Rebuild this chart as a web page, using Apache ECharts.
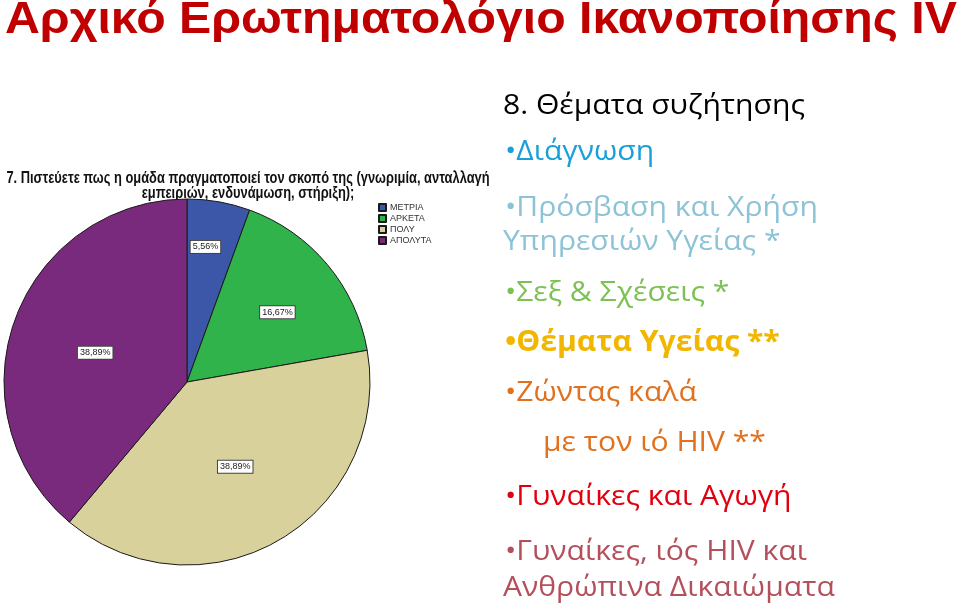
<!DOCTYPE html>
<html><head><meta charset="utf-8">
<script src="https://cdn.jsdelivr.net/npm/echarts@6/dist/echarts.min.js"></script>
<style>html,body{margin:0;padding:0;background:#fff}#c{width:960px;height:609px}</style>
</head><body><div id="c"></div>
<script>
const pageTitle = 'Αρχικό Ερωτηματολόγιο Ικανοποίησης IV';
const questionLines = ['7. Πιστεύετε πως η ομάδα πραγματοποιεί τον σκοπό της (γνωριμία, ανταλλαγή', 'εμπειριών, ενδυνάμωση, στήριξη);'];
const categories = ['ΜΕΤΡΙΑ', 'ΑΡΚΕΤΑ', 'ΠΟΛΥ', 'ΑΠΟΛΥΤΑ'];
const percents = [5.56, 16.67, 38.89, 38.89];
const topicLines = [
  '8. Θέματα συζήτησης',
  '•Διάγνωση',
  '•Πρόσβαση και Χρήση',
  'Υπηρεσιών Υγείας *',
  '•Σεξ & Σχέσεις *',
  '•Θέματα Υγείας **',
  '•Ζώντας καλά',
  'με τον ιό HIV **',
  '•Γυναίκες και Αγωγή',
  '•Γυναίκες, ιός HIV και',
  'Ανθρώπινα Δικαιώματα'
];

const sliceColors = ['#3d57a8', '#30b34a', '#d8d19b', '#7a2a7d'];
const labelOffsets = [[2, -42], [18, -9], [1, 3], [-3, 3]];
const topicStyle = [
  {x: 503, y: 106, c: '#000000', b: false},
  {x: 505, y: 152, c: '#1a9fd9', b: false},
  {x: 505, y: 208, c: '#8dc3d7', b: false},
  {x: 503, y: 242, c: '#8dc3d7', b: false},
  {x: 505, y: 293, c: '#7cc154', b: false},
  {x: 505, y: 343, c: '#f1b700', b: true},
  {x: 505, y: 393, c: '#e0711e', b: false},
  {x: 543, y: 443, c: '#e0711e', b: false},
  {x: 505, y: 497, c: '#e2000f', b: false},
  {x: 505, y: 552, c: '#b4505b', b: false},
  {x: 503, y: 588, c: '#b4505b', b: false}
];

const graphics = [
  {type: 'text', x: 5, y: 21, scaleX: 1.072, style: {text: pageTitle, fill: '#c00000', font: 'bold 45px "Liberation Sans"', verticalAlign: 'middle'}},
  {type: 'text', x: 248, y: 179, scaleX: 0.805, style: {text: questionLines[0], fill: '#111', font: 'bold 16px "Liberation Sans"', align: 'center', verticalAlign: 'middle'}},
  {type: 'text', x: 248, y: 194, scaleX: 0.805, style: {text: questionLines[1], fill: '#111', font: 'bold 16px "Liberation Sans"', align: 'center', verticalAlign: 'middle'}}
];
topicLines.forEach((t, i) => {
  const s = topicStyle[i];
  graphics.push({type: 'text', x: s.x, y: s.y, scaleX: 1.075, style: {text: t, fill: s.c, font: (s.b ? 'bold ' : '') + '28px "Open Sans"', verticalAlign: 'middle'}});
});

const chart = echarts.init(document.getElementById('c'));
chart.setOption({
  animation: false,
  color: sliceColors,
  legend: {
    orient: 'vertical', left: 378, top: 203, padding: 0, itemWidth: 7, itemHeight: 7, itemGap: 2, icon: 'rect',
    textStyle: {fontSize: 9, lineHeight: 9, color: '#333', fontFamily: 'Liberation Sans', padding: [0, 0, 0, -1]},
    data: categories
  },
  graphic: graphics,
  series: [{
    type: 'pie', center: [187, 382], radius: 183, startAngle: 90, clockwise: true,
    avoidLabelOverlap: false, silent: true,
    itemStyle: {borderColor: '#1a1a1a', borderWidth: 1},
    labelLine: {show: false},
    label: {
      position: 'inside', color: '#222', fontSize: 9, fontFamily: 'Liberation Sans',
      backgroundColor: '#fff', borderColor: '#444', borderWidth: 1, padding: [2, 2, 1, 2],
      formatter: p => p.value.toFixed(2).replace('.', ',') + '%'
    },
    data: categories.map((n, i) => ({name: n, value: percents[i], label: {offset: labelOffsets[i]}}))
  }]
});
</script></body></html>
